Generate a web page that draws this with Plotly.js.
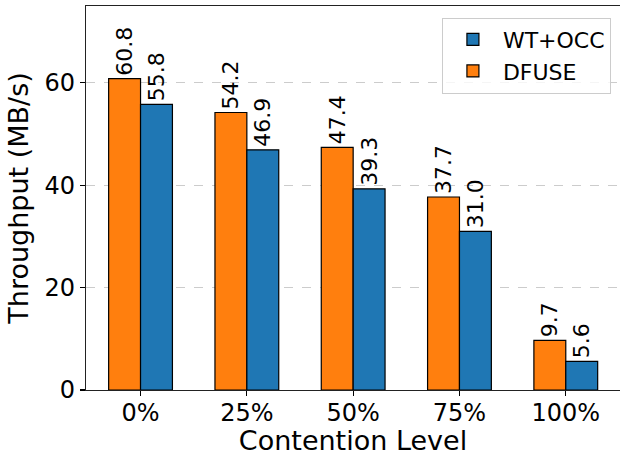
<!DOCTYPE html>
<html>
<head>
<meta charset="utf-8">
<script src="https://cdn.plot.ly/plotly-3.0.1.min.js"></script>
<style>html,body{margin:0;padding:0;background:#fff;}#chart{width:620px;height:456px;}</style>
</head>
<body>
<div id="chart"></div>
<script>
const categories = ["0%", "25%", "50%", "75%", "100%"];
const dfuse = [60.8, 54.2, 47.4, 37.7, 9.7];
const wtocc = [55.8, 46.9, 39.3, 31.0, 5.6];
const yTicks = [0, 20, 40, 60];

const idx = categories.map((c, i) => i);
const font = "DejaVu Sans, sans-serif";

const traces = [
  {
    type: "bar", name: "DFUSE", x: idx, y: dfuse,
    width: 0.3, offset: -0.3,
    marker: {color: "#ff7f0e", line: {color: "#000", width: 1.2}},
    texttemplate: "%{y:.1f}", textposition: "outside", textangle: -90,
    textfont: {family: font, size: 22, color: "#000"},
    constraintext: "none", cliponaxis: false, hoverinfo: "none"
  },
  {
    type: "bar", name: "WT+OCC", x: idx, y: wtocc,
    width: 0.3, offset: 0,
    marker: {color: "#1f77b4", line: {color: "#000", width: 1.2}},
    texttemplate: "%{y:.1f}", textposition: "outside", textangle: -90,
    textfont: {family: font, size: 22, color: "#000"},
    constraintext: "none", cliponaxis: false, hoverinfo: "none"
  }
];

const layout = {
  width: 620, height: 456,
  margin: {l: 86, r: 0, t: 6, b: 66},
  paper_bgcolor: "#fff", plot_bgcolor: "#fff",
  font: {family: font, color: "#000"},
  barmode: "overlay",
  showlegend: true,
  legend: {
    x: 0.983, xanchor: "right", y: 0.97, yanchor: "top",
    traceorder: "reversed", itemwidth: 50,
    bgcolor: "rgba(255,255,255,0.8)", bordercolor: "#cccccc", borderwidth: 1,
    font: {family: font, size: 22, color: "#000"}
  },
  xaxis: {
    range: [-0.513, 4.51],
    tickmode: "array", tickvals: idx, ticktext: categories,
    ticks: "outside", ticklen: 5, tickwidth: 1.2, tickcolor: "#000",
    ticklabelstandoff: -4,
    showline: true, linecolor: "#222", linewidth: 1.2, mirror: true,
    showgrid: false, zeroline: false,
    tickfont: {family: font, size: 24, color: "#000"},
    title: {text: "Contention Level", font: {family: font, size: 27, color: "#000"}, standoff: 5},
    automargin: false
  },
  yaxis: {
    range: [0, 75],
    tickmode: "array", tickvals: yTicks,
    ticks: "outside", ticklen: 5, tickwidth: 1.2, tickcolor: "#000",
    showline: true, linecolor: "#222", linewidth: 1.2, mirror: false,
    showgrid: true, gridcolor: "#cccccc", griddash: "dash", gridwidth: 1,
    zeroline: false,
    tickfont: {family: font, size: 24, color: "#000"},
    title: {text: "Throughput (MB/s)", font: {family: font, size: 27, color: "#000"}, standoff: 8},
    automargin: false
  }
};

Plotly.newPlot("chart", traces, layout, {staticPlot: true, displayModeBar: false});
</script>
</body>
</html>
